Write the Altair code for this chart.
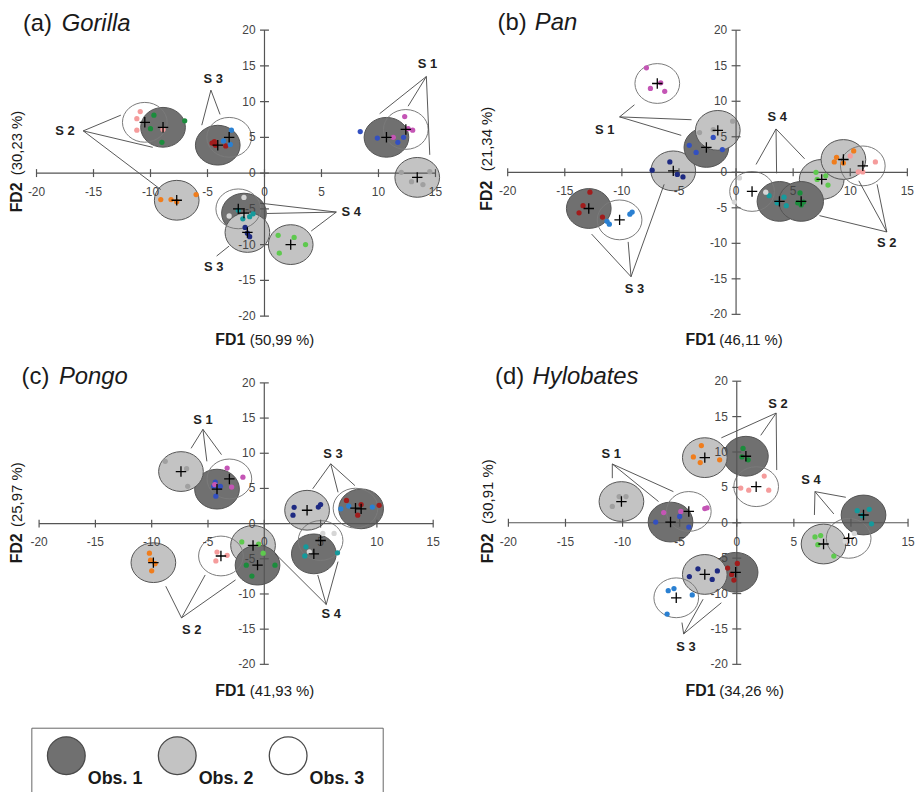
import altair as alt
import pandas as pd

FONT = "Liberation Sans, Arial, sans-serif"

X_TICKS = [-20, -15, -10, -5, 0, 5, 10, 15]
Y_TICKS = [-20, -15, -10, -5, 0, 5, 10, 15, 20]

PANELS = ["a", "b", "c", "d"]
LETTERS = {"a": "(a)", "b": "(b)", "c": "(c)", "d": "(d)"}
GENUS = {"a": "Gorilla", "b": "Pan", "c": "Pongo", "d": "Hylobates"}
FD1_PCT = {"a": "(50,99 %)", "b": "(46,11 %)", "c": "(41,93 %)", "d": "(34,26 %)"}
FD2_PCT = {"a": "(30,23 %)", "b": "(21,34 %)", "c": "(25,97 %)", "d": "(30,91 %)"}

OBS_LABELS = ["Obs. 1", "Obs. 2", "Obs. 3"]

# centroids: (site, observer, FD1, FD2)
GORILLA_CENTROIDS = [
    ("S1", 1, 10.7, 5.0), ("S1", 2, 13.4, -0.6), ("S1", 3, 12.4, 6.1),
    ("S2", 1, -8.9, 6.4), ("S2", 2, -7.7, -3.8), ("S2", 3, -10.5, 7.1),
    ("S3", 1, -4.1, 3.9), ("S3", 2, -1.5, -8.3), ("S3", 3, -3.1, 5.0),
    ("S4", 1, -1.8, -5.6), ("S4", 2, 2.3, -10.0), ("S4", 3, -2.3, -5.0),
]
GORILLA_POINTS = {
    ("S1", 1): [(8.4, 5.8), (9.9, 4.9), (11.7, 4.3), (12.2, 5.0)],
    ("S1", 2): [(12.0, 0.1), (12.9, -1.2), (13.9, -1.6), (14.5, 0.2)],
    ("S1", 3): [(12.3, 7.9), (12.6, 6.2), (13.0, 6.0), (11.3, 5.0)],
    ("S2", 1): [(-9.7, 8.1), (-10.0, 6.2), (-7.0, 7.3), (-9.0, 4.3)],
    ("S2", 2): [(-9.1, -3.7), (-8.2, -3.7), (-6.0, -3.0), (-7.7, -4.0)],
    ("S2", 3): [(-10.9, 8.6), (-11.2, 7.6), (-11.2, 6.0), (-8.9, 6.1)],
    ("S3", 1): [(-4.4, 4.4), (-4.3, 3.9), (-3.4, 3.8), (-4.6, 4.2)],
    ("S3", 2): [(-1.7, -7.6), (-1.5, -8.4), (-1.3, -8.9)],
    ("S3", 3): [(-2.9, 6.0), (-3.6, 4.5), (-3.0, 4.0)],
    ("S4", 1): [(-2.3, -5.2), (-1.9, -6.4), (-1.3, -6.1), (-1.0, -5.7)],
    ("S4", 2): [(1.2, -8.7), (2.6, -9.0), (3.6, -10.0), (1.3, -11.2)],
    ("S4", 3): [(-1.8, -3.4), (-3.1, -6.0)],
}
# labels: (text, label x, label y, hub point, targets)
GORILLA_LABELS = [
    ("S1", 14.3, 15.3, (14.2, 13.5), [(10.1, 8.3), (12.6, 9.35), (14.5, 2.55)]),
    ("S2", -17.5, 5.9, (-15.9, 5.9), [(-12.6, 8.1), (-9.8, 3.6), (-9.1, -2.3)]),
    ("S3", -4.5, 13.2, (-4.7, 11.6), [(-5.5, 6.7), (-3.9, 8.2)]),
    ("S3", -4.45, -13.2, (-4.2, -11.6), [(-3.1, -10.2)]),
    ("S4", 7.6, -5.45, (6.3, -5.45), [(-0.4, -4.2), (0.2, -5.65), (4.1, -8.1)]),
]

PAN_CENTROIDS = [
    ("S1", 1, -2.6, 3.5), ("S1", 2, -1.6, 5.9), ("S1", 3, -6.9, 12.5),
    ("S2", 1, 5.7, -4.1), ("S2", 2, 9.4, 1.8), ("S2", 3, 11.1, 0.9),
    ("S3", 1, -12.9, -5.1), ("S3", 2, -5.5, 0.2), ("S3", 3, -10.2, -6.7),
    ("S4", 1, 3.8, -4.1), ("S4", 2, 7.5, -1.0), ("S4", 3, 1.4, -2.7),
]
PAN_POINTS = {
    ("S1", 1): [(-2.0, 4.9), (-4.1, 3.8), (-3.5, 2.8), (-1.2, 3.2)],
    ("S1", 2): [(-3.2, 5.6), (-2.0, 6.0), (-0.3, 7.2)],
    ("S1", 3): [(-7.85, 14.7), (-7.5, 11.8), (-6.6, 12.6), (-6.25, 11.4)],
    ("S2", 1): [(5.6, -2.9), (5.4, -4.3), (5.9, -4.2), (5.7, -4.6)],
    ("S2", 2): [(8.6, 1.45), (8.8, 2.1), (9.4, 1.3), (10.3, 3.0)],
    ("S2", 3): [(10.0, 2.3), (12.2, 1.45), (10.7, 0.05), (11.1, 0.05)],
    ("S3", 1): [(-12.8, -2.8), (-13.4, -4.7), (-13.75, -5.7), (-11.7, -6.3)],
    ("S3", 2): [(-5.8, 1.45), (-7.35, 0.3), (-5.15, -0.3), (-4.65, -0.65)],
    ("S3", 3): [(-11.3, -6.9), (-11.1, -7.3), (-9.3, -5.9), (-9.1, -5.6)],
    ("S4", 1): [(2.9, -3.3), (3.6, -4.3), (4.2, -3.5), (4.4, -4.7)],
    ("S4", 2): [(7.0, 0.0), (7.85, -0.5), (7.1, -1.0), (8.05, -1.8)],
    ("S4", 3): [(0.3, -0.8), (-0.15, -4.2), (2.6, -2.8)],
}
PAN_LABELS = [
    ("S1", -11.5, 6.0, (-10.2, 7.8), [(-8.9, 9.5), (-3.9, 7.4), (-4.8, 5.2)]),
    ("S2", 13.2, -9.9, (13.2, -8.4), [(7.3, -6.1), (10.75, -1.2), (12.35, -1.7)]),
    ("S3", -8.9, -16.5, (-9.2, -14.7), [(-12.65, -8.7), (-9.45, -9.8), (-6.3, -1.7)]),
    ("S4", 3.6, 7.8, (3.5, 6.1), [(1.75, 1.1), (3.55, -0.15), (6.0, 1.9)]),
]

PONGO_CENTROIDS = [
    ("S1", 1, -4.2, 4.9), ("S1", 2, -7.4, 7.4), ("S1", 3, -3.1, 6.35),
    ("S2", 1, -0.6, -5.9), ("S2", 2, -9.85, -5.55), ("S2", 3, -3.85, -4.6),
    ("S3", 1, 8.6, 2.1), ("S3", 2, 3.8, 1.9), ("S3", 3, 8.1, 2.2),
    ("S4", 1, 4.4, -4.3), ("S4", 2, -1.0, -3.1), ("S4", 3, 5.0, -2.4),
]
PONGO_POINTS = {
    ("S1", 1): [(-4.35, 5.9), (-3.9, 5.3), (-4.3, 3.9), (-4.5, 5.3)],
    ("S1", 2): [(-8.8, 8.85), (-6.9, 7.8), (-6.8, 5.3)],
    ("S1", 3): [(-3.3, 7.9), (-1.9, 6.6), (-2.9, 5.2), (-4.4, 5.55)],
    ("S2", 1): [(-1.6, -5.9), (-1.1, -7.45), (0.95, -5.9)],
    ("S2", 2): [(-10.2, -4.2), (-10.1, -5.2), (-10.0, -6.7), (-9.7, -5.7)],
    ("S2", 3): [(-4.2, -4.05), (-3.3, -4.5), (-4.3, -5.3)],
    ("S3", 1): [(7.3, 3.3), (8.6, 2.7), (8.3, 1.2), (10.2, 2.6)],
    ("S3", 2): [(2.65, 2.3), (2.55, 1.2), (4.8, 2.35), (5.0, 2.7)],
    ("S3", 3): [(6.8, 2.1), (7.5, 2.5), (9.6, 2.35)],
    ("S4", 1): [(3.7, -3.3), (3.6, -4.6), (6.5, -4.15)],
    ("S4", 2): [(-2.0, -2.6), (-0.5, -2.9), (-0.1, -4.2)],
    ("S4", 3): [(5.2, -1.4), (6.2, -1.4), (4.0, -4.0)],
}
PONGO_LABELS = [
    ("S1", -5.45, 14.7, (-5.45, 13.4), [(-6.5, 10.7), (-5.1, 8.85), (-3.8, 9.8)]),
    ("S2", -6.45, -15.1, (-7.35, -13.4), [(-8.75, -8.9), (-5.25, -7.3), (-2.55, -8.0)]),
    ("S3", 6.1, 9.9, (5.9, 8.5), [(4.3, 4.95), (6.55, 4.45), (8.05, 5.4)]),
    ("S4", 5.95, -12.8, (5.5, -11.5), [(0.95, -4.25), (4.75, -7.3), (6.55, -5.4)]),
]

HYLOBATES_CENTROIDS = [
    ("S1", 1, -5.8, 0.1), ("S1", 2, -10.1, 3.0), ("S1", 3, -4.2, 1.6),
    ("S2", 1, 0.8, 9.4), ("S2", 2, -2.8, 9.2), ("S2", 3, 1.7, 5.1),
    ("S3", 1, -0.1, -7.0), ("S3", 2, -2.8, -7.3), ("S3", 3, -5.3, -10.6),
    ("S4", 1, 11.1, 1.1), ("S4", 2, 7.6, -3.0), ("S4", 3, 9.8, -2.2),
]
HYLOBATES_POINTS = {
    ("S1", 1): [(-7.1, 0.1), (-5.0, 0.9), (-4.2, -0.6)],
    ("S1", 2): [(-10.3, 3.7), (-9.7, 3.7), (-10.9, 2.3)],
    ("S1", 3): [(-6.4, 1.45), (-4.9, 1.6), (-2.8, 2.0), (-2.6, 2.1)],
    ("S2", 1): [(0.55, 10.5), (0.45, 9.3), (1.0, 8.9)],
    ("S2", 2): [(-3.1, 10.9), (-3.8, 9.3), (-3.2, 8.5), (-1.5, 8.9)],
    ("S2", 3): [(2.4, 6.6), (0.35, 4.9), (1.05, 4.6), (2.8, 4.6)],
    ("S3", 1): [(-0.8, -6.4), (0.05, -5.75), (-0.45, -7.3), (-0.25, -8.1)],
    ("S3", 2): [(-3.4, -6.5), (-4.15, -7.6), (-1.7, -6.8), (-2.15, -8.0)],
    ("S3", 3): [(-6.0, -9.6), (-5.5, -9.3), (-3.9, -10.2), (-6.1, -12.9)],
    ("S4", 1): [(10.55, 1.7), (11.6, 1.9), (11.0, 1.0), (11.8, -0.15)],
    ("S4", 2): [(6.85, -2.0), (7.35, -1.8), (7.1, -3.1), (8.5, -4.7)],
    ("S4", 3): [(9.5, -2.6), (10.3, -1.5)],
}
HYLOBATES_LABELS = [
    ("S1", -11.0, 9.7, (-10.9, 8.3), [(-10.9, 6.3), (-6.85, 3.0), (-5.55, 4.4)]),
    ("S2", 3.6, 16.8, (3.45, 15.5), [(-1.35, 12.0), (2.1, 12.35), (3.5, 7.45)]),
    ("S3", -4.45, -17.6, (-4.65, -15.7), [(-4.8, -14.1), (-2.95, -10.8), (-1.35, -11.3)]),
    ("S4", 6.5, 6.05, (6.85, 4.4), [(6.8, 1.1), (8.5, 1.25), (9.55, 3.6)]),
]

DATA = {
    "a": (GORILLA_CENTROIDS, GORILLA_POINTS, GORILLA_LABELS),
    "b": (PAN_CENTROIDS, PAN_POINTS, PAN_LABELS),
    "c": (PONGO_CENTROIDS, PONGO_POINTS, PONGO_LABELS),
    "d": (HYLOBATES_CENTROIDS, HYLOBATES_POINTS, HYLOBATES_LABELS),
}

# ---------- styles / layout (not data) ----------
POINT_KEYS = ["S1-1", "S1-2", "S1-3", "S2-1", "S2-2", "S2-3",
              "S3-1", "S3-2", "S3-3", "S4-1", "S4-2", "S4-3"]
POINT_COLORS = ["#3350c0", "#a0a0a0", "#c455b5", "#1b8c3c", "#f07d1c", "#f59c9c",
                "#a11c1c", "#1e2a82", "#2a80d2", "#159a9c", "#5ec94e", "#d6d6d6"]
OBS_FILL = ["#707070", "#c3c3c3", "#ffffff"]

ELL = ("M 1 0 C 1 0.4915 0.5523 0.89 0 0.89 C -0.5523 0.89 -1 0.4915 -1 0 "
       "C -1 -0.4915 -0.5523 -0.89 0 -0.89 C 0.5523 -0.89 1 -0.4915 1 0 Z")
ELL_SIZE = 45 * 45
PLUS = "M -1 0 L 1 0 M 0 -1 L 0 1"

GEOM = {
    "a": dict(x0=8, y0=8, w=452, h=340, xm20=36.7, x15=438.3, y20=26.5, ym20=314.5),
    "b": dict(x0=460, y0=8, w=455, h=340, xm20=511.0, x15=913.3, y20=26.7, ym20=312.7),
    "c": dict(x0=8, y0=348, w=452, h=357, xm20=39.3, x15=436.0, y20=381.7, ym20=665.0),
    "d": dict(x0=460, y0=348, w=455, h=357, xm20=511.7, x15=914.0, y20=380.0, ym20=665.0),
}
TITLE_POS = {"a": (15, 19, 54), "b": (40.7, 18.7, 78.3), "c": (13.7, 35, 51.3), "d": (38.3, 35, 76)}
FD2_POS = {"a": (8.7, 202, 164.7), "b": (30, 200.3, 160.7), "c": (8.7, 215.3, 178.7), "d": (31.7, 215.3, 175.7)}
FD1_POS = {"a": (331, 208.7, 243.3), "b": (331, 230, 264), "c": (344, 208.7, 243.3), "d": (344, 230, 264)}

AXIS_COLOR = "#555555"
SITE_ORDER = {"S4": 0, "S3": 1, "S2": 2, "S1": 3}


def make_panel(key):
    cents, pts, labels = DATA[key]
    g = GEOM[key]
    sx = (g["x15"] - g["xm20"]) / 35.0
    dxmin = -20 - (g["xm20"] - g["x0"]) / sx
    dxmax = dxmin + g["w"] / sx
    sy = (g["ym20"] - g["y20"]) / 40.0
    dymax = 20 + (g["y20"] - g["y0"]) / sy
    dymin = dymax - g["h"] / sy
    xs = alt.Scale(domain=[dxmin, dxmax], nice=False, zero=False)
    ys = alt.Scale(domain=[dymin, dymax], nice=False, zero=False)

    def X(f):
        return alt.X(f, type="quantitative", scale=xs, axis=None)

    def Y(f):
        return alt.Y(f, type="quantitative", scale=ys, axis=None)

    gdf = pd.DataFrame(cents, columns=["site", "obs", "x", "y"])
    gdf["ord"] = gdf["site"].map(SITE_ORDER) * 10 + gdf["obs"]
    gdf = gdf.sort_values("ord").reset_index(drop=True)

    prow = []
    for (site, obs), lst in pts.items():
        for (px, py) in lst:
            prow.append({"x": px, "y": py, "key": f"{site}-{obs}"})
    pdf = pd.DataFrame(prow)

    lrow, trow = [], []
    for (txt, lx, ly, hub, targets) in labels:
        trow.append({"x": lx, "y": ly, "t": txt[0] + " " + txt[1:]})
        for (tx, ty) in targets:
            lrow.append({"x": hub[0], "y": hub[1], "x2": tx, "y2": ty})
    ldf = pd.DataFrame(lrow)
    tdf = pd.DataFrame(trow)

    xt = pd.DataFrame({"v": X_TICKS, "z": [0] * len(X_TICKS), "s": [str(v) for v in X_TICKS]})
    yt = pd.DataFrame({"v": Y_TICKS, "z": [0] * len(Y_TICKS), "s": [str(v) for v in Y_TICKS]})
    axes = pd.DataFrame({"x": [X_TICKS[0], 0], "x2": [X_TICKS[-1], 0],
                         "y": [0, Y_TICKS[0]], "y2": [0, Y_TICKS[-1]]})

    white = gdf[gdf["obs"] == 3]
    grey = gdf[gdf["obs"] < 3]

    l_white_fill = alt.Chart(white).mark_point(
        shape=ELL, size=ELL_SIZE, filled=True, color="#ffffff", opacity=1, strokeWidth=0
    ).encode(x=X("x"), y=Y("y"))
    l_grey = alt.Chart(grey).mark_point(
        shape=ELL, size=ELL_SIZE, filled=True, opacity=1, stroke="#555555", strokeWidth=1
    ).encode(x=X("x"), y=Y("y"),
             fill=alt.Fill("obs:N", scale=alt.Scale(domain=[1, 2, 3], range=OBS_FILL), legend=None))
    l_white_line = alt.Chart(white).mark_point(
        shape=ELL, size=ELL_SIZE, filled=False, color="#7a7a7a", opacity=1, strokeWidth=1
    ).encode(x=X("x"), y=Y("y"))
    l_lead = alt.Chart(ldf).mark_rule(color="#444444", strokeWidth=0.9).encode(
        x=X("x"), y=Y("y"), x2="x2:Q", y2="y2:Q")
    l_axes = alt.Chart(axes).mark_rule(color=AXIS_COLOR, strokeWidth=1.2).encode(
        x=X("x"), y=Y("y"), x2="x2:Q", y2="y2:Q")
    l_xt = alt.Chart(xt).mark_tick(orient="vertical", size=8, thickness=1.2,
                                   color=AXIS_COLOR, opacity=1).encode(x=X("v"), y=Y("z"))
    l_yt = alt.Chart(yt).mark_tick(orient="horizontal", size=9, thickness=1.2,
                                   color=AXIS_COLOR, opacity=1).encode(x=X("z"), y=Y("v"))
    l_xl = alt.Chart(xt).mark_text(font=FONT, fontSize=12, color="#444444", dy=19,
                                   align="center", baseline="middle").encode(
        x=X("v"), y=Y("z"), text="s:N")
    l_yl = alt.Chart(yt).mark_text(font=FONT, fontSize=12, color="#444444", dx=-9,
                                   align="right", baseline="middle").encode(
        x=X("z"), y=Y("v"), text="s:N")
    l_pts = alt.Chart(pdf).mark_circle(size=28, opacity=1).encode(
        x=X("x"), y=Y("y"),
        color=alt.Color("key:N", scale=alt.Scale(domain=POINT_KEYS, range=POINT_COLORS), legend=None))
    l_plus = alt.Chart(gdf).mark_point(shape=PLUS, size=110, filled=False, color="#000000",
                                       opacity=1, strokeWidth=1.3).encode(x=X("x"), y=Y("y"))
    l_lab = alt.Chart(tdf).mark_text(font=FONT, fontSize=13, fontWeight="bold", color="#222222",
                                     align="center", baseline="middle").encode(
        x=X("x"), y=Y("y"), text="t:N")

    tx, ty, tx2 = TITLE_POS[key]
    one = pd.DataFrame({"a": [LETTERS[key]], "b": [GENUS[key]],
                        "f1": ["FD1"], "p1": [FD1_PCT[key]], "f2": ["FD2"], "p2": [FD2_PCT[key]]})
    l_t1 = alt.Chart(one).mark_text(font=FONT, fontSize=24, color="#1a1a1a", align="left",
                                    baseline="alphabetic").encode(
        x=alt.value(tx), y=alt.value(ty), text="a:N")
    l_t2 = alt.Chart(one).mark_text(font=FONT, fontSize=24, fontStyle="italic", color="#1a1a1a",
                                    align="left", baseline="alphabetic").encode(
        x=alt.value(tx2), y=alt.value(ty), text="b:N")
    fx, fb, fp = FD2_POS[key]
    l_f2a = alt.Chart(one).mark_text(font=FONT, fontSize=16, fontWeight="bold", color="#1a1a1a",
                                     angle=270, align="left", baseline="middle").encode(
        x=alt.value(fx), y=alt.value(fb), text="f2:N")
    l_f2b = alt.Chart(one).mark_text(font=FONT, fontSize=15, color="#1a1a1a",
                                     angle=270, align="left", baseline="middle").encode(
        x=alt.value(fx), y=alt.value(fp), text="p2:N")
    fy, f1x, p1x = FD1_POS[key]
    l_f1a = alt.Chart(one).mark_text(font=FONT, fontSize=16, fontWeight="bold", color="#1a1a1a",
                                     align="left", baseline="middle").encode(
        x=alt.value(f1x), y=alt.value(fy), text="f1:N")
    l_f1b = alt.Chart(one).mark_text(font=FONT, fontSize=15, color="#1a1a1a",
                                     align="left", baseline="middle").encode(
        x=alt.value(p1x), y=alt.value(fy), text="p1:N")

    return alt.layer(
        l_white_fill, l_grey, l_white_line, l_lead, l_axes, l_xt, l_yt, l_xl, l_yl,
        l_pts, l_plus, l_lab, l_t1, l_t2, l_f2a, l_f2b, l_f1a, l_f1b
    ).properties(width=g["w"], height=g["h"])


def make_legend():
    ldf = pd.DataFrame({"obs": [1, 2, 3], "label": OBS_LABELS})
    xsc = alt.Scale(domain=[1, 3], range=[58.7, 282.0], nice=False, zero=False)
    box = alt.Chart(pd.DataFrame({"k": [0]})).mark_rect(
        fill="#ffffff", stroke="#666666", strokeWidth=1).encode(
        x=alt.value(24), x2=alt.value(377.7), y=alt.value(24.3), y2=alt.value(110))
    circ = alt.Chart(ldf).mark_point(shape="circle", size=38 * 38, filled=True, opacity=1,
                                     stroke="#4a4a4a", strokeWidth=1.3).encode(
        x=alt.X("obs:Q", scale=xsc, axis=None), y=alt.value(52),
        fill=alt.Fill("obs:N", scale=alt.Scale(domain=[1, 2, 3], range=OBS_FILL), legend=None))
    txt = alt.Chart(ldf).mark_text(font=FONT, fontSize=18, fontWeight="bold", color="#1a1a1a",
                                   align="left", baseline="alphabetic", dx=21.6).encode(
        x=alt.X("obs:Q", scale=xsc, axis=None), y=alt.value(80), text="label:N")
    return alt.layer(box, circ, txt).properties(width=907, height=87)


row1 = alt.hconcat(make_panel("a"), make_panel("b"), spacing=0)
row2 = alt.hconcat(make_panel("c"), make_panel("d"), spacing=0)
chart = alt.vconcat(row1, row2, make_legend(), spacing=0).properties(
    padding=0
).configure_view(stroke=None)

chart.save("out.html", embed_options={"renderer": "svg", "actions": False})
